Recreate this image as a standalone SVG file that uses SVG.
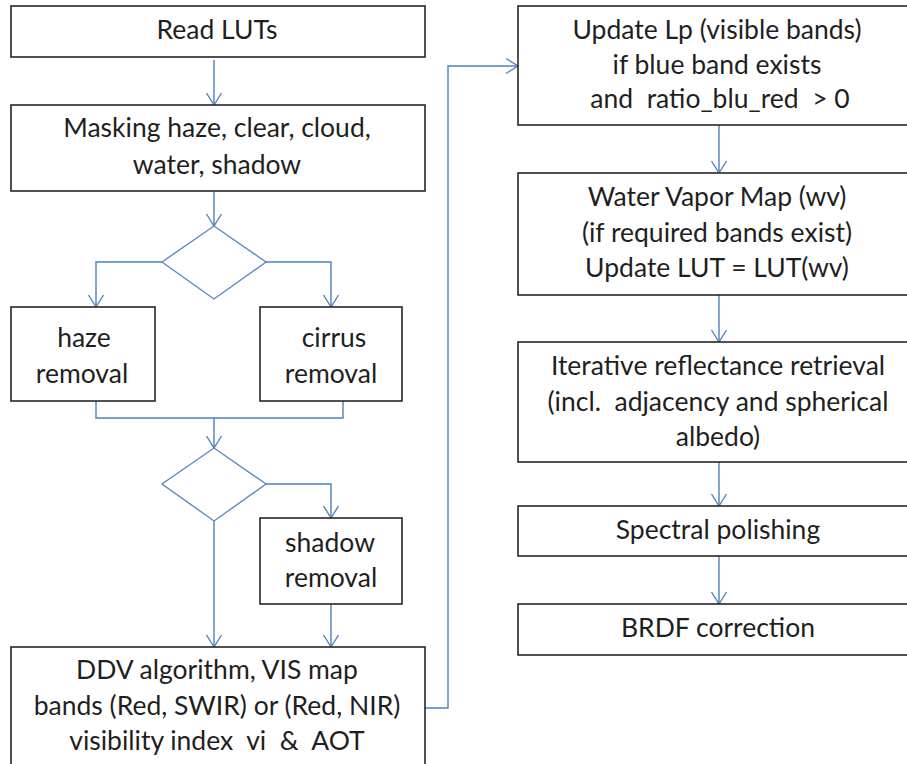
<svg xmlns="http://www.w3.org/2000/svg" width="907" height="764" viewBox="0 0 907 764">
<style>
.box{fill:#ffffff;stroke:#262626;stroke-width:1.6}
.dia{fill:#ffffff;stroke:#5b8ac6;stroke-width:1.4}
.t{font-family:Lato,"Open Sans","Liberation Sans",sans-serif;font-size:26.5px;fill:#1f1f1f;text-anchor:middle}
.c{fill:none;stroke:#4f81bd;stroke-width:1.4}
</style>
<defs>
<marker id="ah" markerUnits="userSpaceOnUse" markerWidth="16" markerHeight="18" viewBox="0 0 16 18" refX="14" refY="9" orient="auto">
<path d="M2,1.5 L14,9 L2,16.5" fill="none" stroke="#4f81bd" stroke-width="1.4"/>
</marker>
</defs>
<rect width="907" height="764" fill="#ffffff"/>
<g id="connectors">
<path class="c" d="M214,60 V105" marker-end="url(#ah)"/>
<path class="c" d="M214,192 V226" marker-end="url(#ah)"/>
<path class="c" d="M162,262 H96 V307" marker-end="url(#ah)"/>
<path class="c" d="M266,262 H331 V307" marker-end="url(#ah)"/>
<path class="c" d="M96,401 V418 H343 V401"/>
<path class="c" d="M214,418 V448" marker-end="url(#ah)"/>
<path class="c" d="M266,484 H331 V518" marker-end="url(#ah)"/>
<path class="c" d="M214,521 V647" marker-end="url(#ah)"/>
<path class="c" d="M331,604 V647" marker-end="url(#ah)"/>
<path class="c" d="M425,708 H448 V66 H518" marker-end="url(#ah)"/>
<path class="c" d="M719,125 V173" marker-end="url(#ah)"/>
<path class="c" d="M719,295 V342" marker-end="url(#ah)"/>
<path class="c" d="M719,462 V506" marker-end="url(#ah)"/>
<path class="c" d="M719,556 V604" marker-end="url(#ah)"/>
</g>
<g id="read-luts">
<rect class="box" x="11" y="6" width="414" height="51"/>
<text class="t" x="217" y="39">Read LUTs</text>
</g>
<g id="masking">
<rect class="box" x="11" y="105" width="414" height="86"/>
<text class="t" x="217" y="137">Masking haze, clear, cloud,</text>
<text class="t" x="217" y="174">water, shadow</text>
</g>
<g id="decision1">
<polygon class="dia" points="214,226 266,262 214,299 162,262"/>
</g>
<g id="haze-removal">
<rect class="box" x="11" y="307" width="144" height="94"/>
<text class="t" x="84" y="347">haze</text>
<text class="t" x="82" y="383">removal</text>
</g>
<g id="cirrus-removal">
<rect class="box" x="260" y="307" width="142" height="94"/>
<text class="t" x="334" y="347">cirrus</text>
<text class="t" x="331" y="383">removal</text>
</g>
<g id="decision2">
<polygon class="dia" points="214,448 266,484 214,521 162,484"/>
</g>
<g id="shadow-removal">
<rect class="box" x="260" y="518" width="142" height="86"/>
<text class="t" x="330" y="552">shadow</text>
<text class="t" x="331" y="587">removal</text>
</g>
<g id="ddv">
<rect class="box" x="11" y="647" width="414" height="122"/>
<text class="t" x="217" y="679">DDV algorithm, VIS map</text>
<text class="t" x="217" y="715">bands (Red, SWIR) or (Red, NIR)</text>
<text class="t" x="217" y="750" xml:space="preserve">visibility index  vi  &amp;  AOT</text>
</g>
<g id="update-lp">
<rect class="box" x="518" y="6" width="402" height="119"/>
<text class="t" x="717" y="39">Update Lp (visible bands)</text>
<text class="t" x="717" y="74">if blue band exists</text>
<text class="t" x="720" y="108" xml:space="preserve">and  ratio_blu_red  &gt; 0</text>
</g>
<g id="water-vapor">
<rect class="box" x="518" y="173" width="402" height="122"/>
<text class="t" x="717" y="206">Water Vapor Map (wv)</text>
<text class="t" x="717" y="242">(if required bands exist)</text>
<text class="t" x="717" y="277">Update LUT = LUT(wv)</text>
</g>
<g id="iterative">
<rect class="box" x="518" y="342" width="402" height="120"/>
<text class="t" x="718" y="375">Iterative reflectance retrieval</text>
<text class="t" x="718" y="411" xml:space="preserve">(incl.  adjacency and spherical</text>
<text class="t" x="718" y="446">albedo)</text>
</g>
<g id="spectral">
<rect class="box" x="518" y="506" width="402" height="50"/>
<text class="t" x="718" y="539">Spectral polishing</text>
</g>
<g id="brdf">
<rect class="box" x="518" y="604" width="402" height="51"/>
<text class="t" x="718" y="637">BRDF correction</text>
</g>
</svg>
